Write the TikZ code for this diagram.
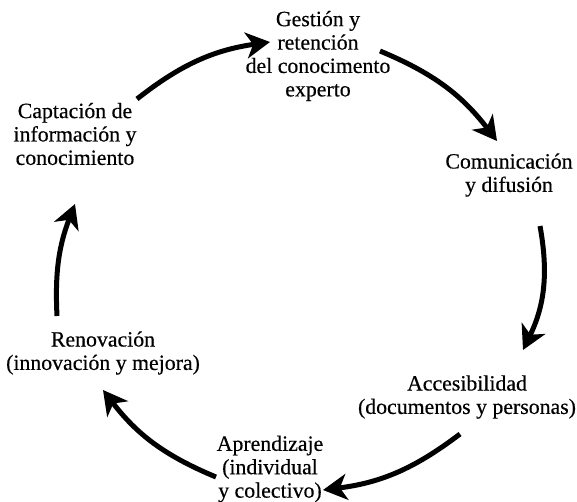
\documentclass[tikz,border=0pt]{standalone}
\usepackage{fontspec}
\setmainfont{Liberation Serif}
\newfontfamily\rotulo{Liberation Serif}[FakeBold=0.4]
\usetikzlibrary{arrows.meta}

\begin{document}
\begin{tikzpicture}[x=1pt,y=-1pt,
    etiqueta/.style={align=center,inner sep=0pt,font=\rotulo\fontsize{21.8}{23.4}\selectfont},
    flecha/.style={line width=5pt,-{Stealth[length=24pt,width=26pt,inset=7pt]}}]
    \useasboundingbox (0,0) rectangle (577,502);
    \node [etiqueta] (gestion) at (318, 56) {Gestión y\\retención\\del conocimento\\experto};
    \node [etiqueta] (comunicacion) at (509, 175) {Comunicación\\y difusión};
    \node [etiqueta] (accesibilidad) at (467, 397) {Accesibilidad\\(documentos y personas)};
    \node [etiqueta] (aprendizaje) at (270, 469) {Aprendizaje\\(individual\\y colectivo)};
    \node [etiqueta] (renovacion) at (103, 353) {Renovación\\(innovación y mejora)};
    \node [etiqueta] (captacion) at (75, 134) {Captación de\\información y\\conocimiento};
    % extremos de las flechas
    \coordinate (f1a) at (137, 99);
    \coordinate (f1b) at (270, 42);
    \coordinate (f2a) at (380, 51);
    \coordinate (f2b) at (497, 141);
    \coordinate (f3a) at (540, 226);
    \coordinate (f3b) at (523, 350);
    \coordinate (f4a) at (460, 434);
    \coordinate (f4b) at (323, 490);
    \coordinate (f5a) at (216, 477);
    \coordinate (f5b) at (103, 390);
    \coordinate (f6a) at (57, 316);
    \coordinate (f6b) at (75, 204);
    \draw [flecha] (f1a) to[bend left=15] (f1b);
    \draw [flecha] (f2a) to[bend left=15] (f2b);
    \draw [flecha] (f3a) to[bend left=18] (f3b);
    \draw [flecha] (f4a) to[bend left=15] (f4b);
    \draw [flecha] (f5a) to[bend left=15] (f5b);
    \draw [flecha] (f6a) to[bend left=12] (f6b);
\end{tikzpicture}
\end{document}
